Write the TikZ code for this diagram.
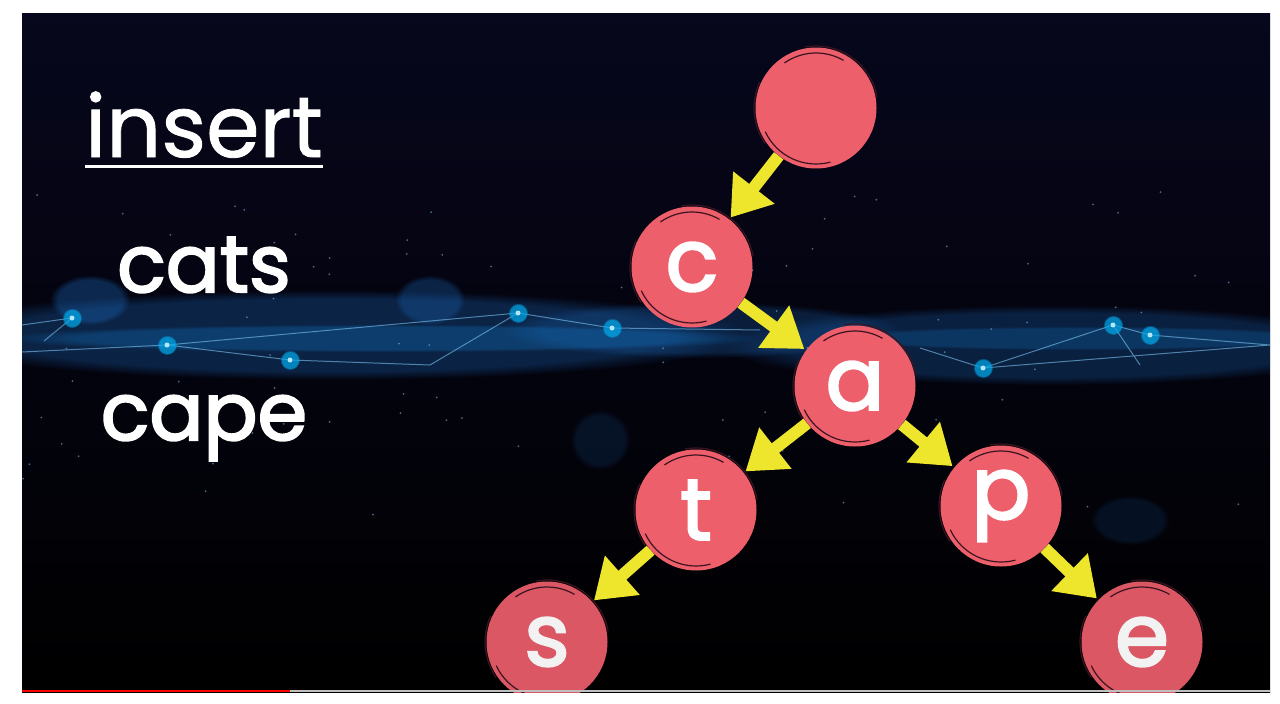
\documentclass[tikz,border=0pt]{standalone}
\usepackage{fontspec}
\setmainfont{Poppins}
\newfontfamily\wordfont{Poppins}[FakeBold=1]
\newfontfamily\boldwordfont{Poppins}[FakeBold=2.5]
\usetikzlibrary{arrows.meta,fadings}

\definecolor{nightsky}{HTML}{07071D}
\definecolor{glowblue}{HTML}{1C6CC0}
\definecolor{netblue}{HTML}{7CC4F4}
\definecolor{bubblered}{HTML}{EE5F6C}
\definecolor{sketchdark}{HTML}{3B1420}
\definecolor{arrowyellow}{HTML}{EEE52D}

\tikzset{
  letter/.style={circle, fill=bubblered, minimum size=121pt, inner sep=0pt,
    text=white, font=\boldwordfont\fontsize{87}{87}\selectfont},
  link/.style={-{Triangle[length=38pt,width=50pt]}, line width=12pt,
    draw=arrowyellow, shorten >=2pt},
  sketch/.style={draw=sketchdark, line width=1.2pt},
  glow/.style={fill=glowblue, path fading=circle with fuzzy edge 20 percent},
  word/.style={text=white, anchor=base, inner sep=0pt}
}

\begin{document}
\begin{tikzpicture}[x=1pt, y=-1pt]
    % Page and margins
    \useasboundingbox (0,0) rectangle (1280,704);
    \fill[white] (0,0) rectangle (1280,704);

    \begin{scope}
    \clip (22,13) rectangle (1270,692);

    % Draw the night sky
    \shade[top color=nightsky, middle color=nightsky!70!black, bottom color=black]
        (22,13) rectangle (1270,692);

    % Glowing band
    \fill[glow, opacity=0.30] (330,335) ellipse [x radius=420pt, y radius=45pt];
    \fill[glow, opacity=0.28] (1050,345) ellipse [x radius=330pt, y radius=40pt];
    \fill[glow, opacity=0.25] (700,330) ellipse [x radius=200pt, y radius=28pt];
    \fill[glow, fill=cyan!60!blue, opacity=0.30] (380,338) ellipse [x radius=380pt, y radius=14pt];
    \fill[glow, fill=cyan!60!blue, opacity=0.25] (1080,338) ellipse [x radius=260pt, y radius=12pt];
    \fill[glow, opacity=0.35] (90,300) ellipse [x radius=40pt, y radius=25pt];
    \fill[glow, opacity=0.3] (430,300) ellipse [x radius=35pt, y radius=25pt];
    \fill[glow, opacity=0.15] (600,440) ellipse [x radius=30pt, y radius=30pt];
    \fill[glow, opacity=0.15] (1130,520) ellipse [x radius=40pt, y radius=25pt];

    % Network points
    \coordinate (n0) at (22,325);
    \coordinate (n1) at (72,318);
    \coordinate (n2) at (44,341);
    \coordinate (n3) at (167,345);
    \coordinate (n4) at (22,352);
    \coordinate (n5) at (290,360);
    \coordinate (n6) at (430,365);
    \coordinate (n7) at (518,313);
    \coordinate (n8) at (612,328);
    \coordinate (n9) at (760,330);
    \coordinate (n10) at (920,348);
    \coordinate (n11) at (983,368);
    \coordinate (n12) at (1113,325);
    \coordinate (n13) at (1150,335);
    \coordinate (n14) at (1270,345);
    \coordinate (n15) at (1140,365);

    % Network lines
    \draw[netblue, opacity=0.6, line width=1pt]
        (n0) -- (n1) -- (n2)
        (n4) -- (n3) -- (n5) -- (n6) -- (n7) -- (n8) -- (n9)
        (n3) -- (n7)
        (n10) -- (n11) -- (n12) -- (n13) -- (n14)
        (n12) -- (n15)
        (n11) -- (n14);

    % Network dots
    \foreach \n in {n1,n3,n5,n7,n8,n11,n12,n13}{
        \fill[cyan, path fading=circle with fuzzy edge 20 percent, opacity=0.7]
            (\n) circle (10pt);
        \fill[white!70!cyan] (\n) circle (2.5pt);
    }

    % Stars
    \pgfmathsetseed{11}
    \foreach \i in {1,...,90}{
        \pgfmathsetmacro{\sx}{22+1248*rnd}
        \pgfmathsetmacro{\sy}{190+330*rnd}
        \fill[netblue, opacity=0.55] (\sx,\sy) circle (1pt);
    }

    % Draw the trie
    \node[letter] (root) at (816,108) {};
    \node[letter] (c) at (692,267) {c};
    \node[letter] (a) at (855,386) {a};
    \node[letter] (t) at (696,510) {t};
    \node[letter] (p) at (1001,506) {p};
    \node[letter, fill=bubblered!92!black, text=white!90!gray] (s) at (547,642) {s};
    \node[letter, fill=bubblered!92!black, text=white!90!gray] (e) at (1142,642) {e};

    % Sketchy rims
    \foreach \n in {root,c,a,t,p,s,e}{
        \draw[sketch] ([shift={(10:62pt)}]\n.center) arc[start angle=10, end angle=100, radius=62pt];
        \draw[sketch] ([shift={(60:55pt)}]\n.center) arc[start angle=60, end angle=125, radius=55pt];
        \draw[sketch] ([shift={(155:62pt)}]\n.center) arc[start angle=155, end angle=215, radius=62pt];
        \draw[sketch] ([shift={(205:56pt)}]\n.center) arc[start angle=205, end angle=285, radius=56pt];
    }

    % Add arrows
    \draw[link] (root) -- (c);
    \draw[link] (c) -- (a);
    \draw[link] (a) -- (t);
    \draw[link] (a) -- (p);
    \draw[link] (t) -- (s);
    \draw[link] (p) -- (e);

    % Add words
    \node[word, font=\wordfont\fontsize{86}{86}\selectfont] (insert) at (204,157) {insert};
    \draw[white, line width=3pt] ([yshift=-9pt]insert.base west) -- ([yshift=-9pt]insert.base east);
    \node[word, font=\boldwordfont\fontsize{80}{80}\selectfont] (cats) at (204,292) {cats};
    \node[word, font=\boldwordfont\fontsize{80}{80}\selectfont] (cape) at (204,440) {cape};
    \end{scope}

    % Progress bar
    \draw[red, line width=2pt] (22,691) -- (290,691);
    \draw[gray!50, line width=2pt] (290,691) -- (1270,691);
\end{tikzpicture}
\end{document}
